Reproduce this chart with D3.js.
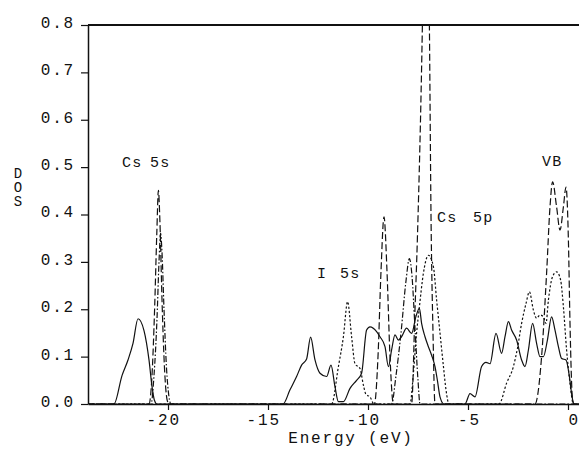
<!DOCTYPE html>
<html>
<head>
<meta charset="utf-8">
<script src="https://cdn.jsdelivr.net/npm/d3@7"></script>
<style>
  html, body { margin: 0; padding: 0; background: #fff; }
  svg { display: block; }
  text { font-family: "Liberation Mono", "DejaVu Sans Mono", monospace; fill: #111; }
</style>
</head>
<body>
<svg id="chart" width="579" height="456"></svg>
<script>
// ---- data (energy in eV, DOS) ----
const yTickValues = [0, 0.1, 0.2, 0.3, 0.4, 0.5, 0.6, 0.7, 0.8];
const yTickLabels = ["0.0", "0.1", "0.2", "0.3", "0.4", "0.5", "0.6", "0.7", "0.8"];
const xTickValues = [-20, -15, -10, -5, 0];
const xTickLabels = ["-20", "-15", "-10", "-5", "0"];
const xLabel = "Energy (eV)";
const yLabel = "DOS";

const solidDOS = [
  [-24, 0], [-22.7, 0], [-22.3, 0.06], [-22.0, 0.093], [-21.75, 0.128], [-21.5, 0.18], [-21.2, 0.155],
  [-20.95, 0.093], [-20.8, 0.037], [-20.68, 0.008], [-20.55, 0],
  [-14.25, 0], [-13.9, 0.03], [-13.57, 0.058], [-13.32, 0.082], [-13.07, 0.095], [-12.87, 0.141],
  [-12.65, 0.093], [-12.4, 0.065], [-12.07, 0.058], [-11.85, 0.082], [-11.65, 0.036], [-11.48, 0.005],
  [-11.23, 0.005], [-10.9, 0.033], [-10.57, 0.05], [-10.32, 0.065], [-10.07, 0.156], [-9.9, 0.163],
  [-9.57, 0.153], [-9.4, 0.142], [-9.15, 0.121], [-8.98, 0.079], [-8.82, 0.114], [-8.65, 0.146],
  [-8.48, 0.135], [-8.32, 0.142], [-8.07, 0.16], [-7.82, 0.149], [-7.6, 0.185], [-7.43, 0.202],
  [-7.32, 0.17], [-7.15, 0.142], [-6.98, 0.121], [-6.82, 0.103], [-6.65, 0.079], [-6.53, 0.05],
  [-6.4, 0.015], [-6.2, 0],
  [-5.15, 0], [-4.9, 0.022], [-4.65, 0.015], [-4.32, 0.079], [-4.1, 0.088], [-3.9, 0.085], [-3.6, 0.149],
  [-3.32, 0.107], [-3.15, 0.142], [-2.98, 0.174], [-2.82, 0.156], [-2.57, 0.135], [-2.32, 0.093],
  [-2.15, 0.079], [-1.98, 0.114], [-1.77, 0.17], [-1.57, 0.128], [-1.4, 0.1], [-1.23, 0.1],
  [-1.03, 0.135], [-0.82, 0.184], [-0.65, 0.156], [-0.48, 0.121], [-0.32, 0.096], [-0.1, 0.093],
  [0.07, 0.058], [0.18, 0.022], [0.3, 0], [0.55, 0]
];

const dashedDOS = [
  [-24, 0], [-20.95, 0], [-20.8, 0.06], [-20.67, 0.2], [-20.56, 0.36], [-20.48, 0.451], [-20.4, 0.38],
  [-20.3, 0.22], [-20.18, 0.08], [-20.05, 0.01], [-19.95, 0],
  [-9.68, 0], [-9.5, 0.1], [-9.35, 0.28], [-9.2, 0.395], [-9.05, 0.28], [-8.9, 0.1], [-8.73, 0],
  [-7.82, 0], [-7.65, 0.2], [-7.53, 0.35], [-7.28, 0.8], [-7.1, 1.3], [-6.93, 0.8], [-6.85, 0.4],
  [-6.75, 0.15], [-6.65, 0],
  [-1.65, 0], [-1.32, 0.1], [-1.07, 0.276], [-0.9, 0.416], [-0.77, 0.469], [-0.57, 0.416], [-0.4, 0.367],
  [-0.23, 0.416], [-0.1, 0.458], [0.02, 0.346], [0.1, 0.17], [0.23, 0.008], [0.3, 0], [0.55, 0]
];

const dashDotDOS = [
  [-24, 0], [-20.85, 0], [-20.7, 0.06], [-20.55, 0.18], [-20.45, 0.3], [-20.37, 0.36], [-20.3, 0.32],
  [-20.2, 0.2], [-20.08, 0.08], [-19.95, 0.015], [-19.85, 0],
  [-8.82, 0], [-8.6, 0.06], [-8.35, 0.15], [-8.1, 0.26], [-7.93, 0.307], [-7.8, 0.27], [-7.65, 0.16],
  [-7.5, 0.05], [-7.4, 0], [0.55, 0]
];

const dottedDOS = [
  [-24, 0], [-11.82, 0], [-11.48, 0.079], [-11.23, 0.142], [-11.02, 0.216], [-10.82, 0.142],
  [-10.65, 0.085], [-10.4, 0.075], [-10.23, 0.04], [-10.1, 0.02], [-9.9, 0.015], [-9.7, 0],
  [-7.9, 0], [-7.73, 0.065], [-7.57, 0.15], [-7.43, 0.205], [-7.23, 0.276], [-6.98, 0.314],
  [-6.73, 0.29], [-6.57, 0.22], [-6.4, 0.15], [-6.23, 0.08], [-6.1, 0.03], [-5.95, 0],
  [-3.45, 0], [-3.07, 0.044], [-2.73, 0.079], [-2.53, 0.117], [-2.32, 0.17], [-2.1, 0.212],
  [-1.93, 0.237], [-1.73, 0.198], [-1.57, 0.181], [-1.4, 0.188], [-1.23, 0.184], [-1.1, 0.17],
  [-0.98, 0.219], [-0.77, 0.269], [-0.57, 0.279], [-0.37, 0.262], [-0.23, 0.205], [-0.07, 0.114],
  [0.1, 0.044], [0.27, 0], [0.55, 0]
];

const annotations = [
  { text: "Cs", e: -22.3, v: 0.5 },
  { text: "5s", e: -20.9, v: 0.5 },
  { text: "I", e: -12.55, v: 0.266 },
  { text: "5s", e: -11.4, v: 0.266 },
  { text: "Cs", e: -6.55, v: 0.384 },
  { text: "5p", e: -4.75, v: 0.384 },
  { text: "VB", e: -1.3, v: 0.503 }
];

// ---- layout ----
const svg = d3.select("#chart");
const plotL = 88, plotR = 579, plotT = 25, plotB = 404;
const x = d3.scaleLinear().domain([-24, 0.55]).range([plotL, plotR]);
const y = d3.scaleLinear().domain([0, 0.8]).range([plotB, plotT]);

svg.append("defs").append("clipPath").attr("id", "plotclip")
  .append("rect").attr("x", plotL).attr("y", plotT).attr("width", plotR - plotL).attr("height", plotB - plotT);

const line = d3.line().x(d => x(d[0])).y(d => y(d[1])).curve(d3.curveMonotoneX);

const g = svg.append("g").attr("clip-path", "url(#plotclip)");
const series = [
  { data: dashDotDOS, dash: "6,2,1.5,2" },
  { data: dottedDOS, dash: "2.2,2" },
  { data: dashedDOS, dash: "7,3" },
  { data: solidDOS, dash: null }
];
series.forEach(s => {
  g.append("path").datum(s.data).attr("d", line)
    .attr("fill", "none").attr("stroke", "#111").attr("stroke-width", 1.2)
    .attr("stroke-dasharray", s.dash);
});

// axes
const yAxis = d3.axisLeft(y).tickValues(yTickValues).tickSize(7).tickSizeOuter(0).tickPadding(6)
  .tickFormat((d, i) => yTickLabels[i]);
const ya = svg.append("g").attr("transform", `translate(${plotL},0)`).call(yAxis);
ya.select(".domain").attr("stroke", "#111").attr("stroke-width", 1.5);
ya.selectAll(".tick line").attr("stroke", "#111").attr("stroke-width", 1.2);
ya.selectAll(".tick text").attr("dy", "0.15em")
  .style("font-family", "Liberation Mono, monospace").style("font-size", "16px")
  .style("letter-spacing", "1.8px").attr("fill", "#111");

const xAxis = d3.axisBottom(x).tickValues(xTickValues).tickSize(6).tickSizeOuter(0)
  .tickFormat((d, i) => xTickLabels[i]);
const xa = svg.append("g").attr("transform", `translate(0,${plotB})`).call(xAxis);
xa.select(".domain").attr("stroke", "#111").attr("stroke-width", 1.5);
xa.selectAll(".tick line").attr("stroke", "#111").attr("stroke-width", 1.2);
xa.selectAll(".tick text").attr("y", 21).attr("dy", 0)
  .attr("x", (d, i) => i === xTickValues.length - 1 ? 9.5 : 12.3)
  .attr("text-anchor", "end")
  .style("font-family", "Liberation Mono, monospace").style("font-size", "16px")
  .style("letter-spacing", (d, i) => i === xTickValues.length - 1 ? "0px" : "1.8px")
  .attr("fill", "#111");

// top frame line
svg.append("line").attr("x1", x.range()[0]).attr("x2", x.range()[1])
  .attr("y1", y(0.8)).attr("y2", y(0.8)).attr("stroke", "#111").attr("stroke-width", 1.8);

// axis titles
svg.append("text").attr("x", 351).attr("y", 443).attr("text-anchor", "middle")
  .style("font-size", "16px").style("letter-spacing", "1.8px").text(xLabel);
svg.append("text").attr("x", 18).attr("y", 166)
  .style("writing-mode", "vertical-lr").style("text-orientation", "upright")
  .style("font-size", "14px").style("letter-spacing", "-2px").text(yLabel);

// annotations
annotations.forEach(a => {
  svg.append("text").attr("x", x(a.e)).attr("y", y(a.v))
    .style("font-size", "15px").style("letter-spacing", "1.2px").text(a.text);
});
</script>
</body>
</html>
